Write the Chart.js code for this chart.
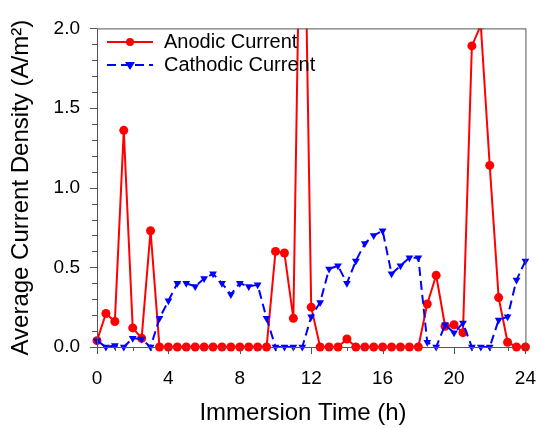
<!DOCTYPE html>
<html>
<head>
<meta charset="utf-8">
<script src="https://cdn.jsdelivr.net/npm/chart.js@4/dist/chart.umd.min.js"></script>
<style>
  html, body { margin: 0; padding: 0; background: #fff; }
  #wrap { width: 556px; height: 428px; }
</style>
</head>
<body>
<div id="wrap"><canvas id="myChart" width="556" height="428"></canvas></div>
<script>
// immersion time (h), one reading every half hour
const times = [0, 0.5, 1, 1.5, 2, 2.5, 3, 3.5, 4, 4.5, 5, 5.5, 6, 6.5, 7, 7.5, 8, 8.5, 9, 9.5,
	10, 10.5, 11, 11.5, 12, 12.5, 13, 13.5, 14, 14.5, 15, 15.5, 16, 16.5, 17, 17.5, 18, 18.5, 19, 19.5,
	20, 20.5, 21, 21.5, 22, 22.5, 23, 23.5, 24]

const anodic = [0.04, 0.21, 0.16, 1.36, 0.12, 0.055, 0.73, 0, 0, 0, 0, 0, 0, 0, 0, 0, 0, 0, 0, 0,
	0.60, 0.59, 0.18, 3.7, 0.25, 0, 0, 0, 0.05, 0, 0, 0, 0, 0, 0, 0, 0, 0.27, 0.45, 0.13,
	0.14, 0.09, 1.89, 2.02, 1.14, 0.31, 0.03, 0, 0]

const cathodic = [0.04, 0, 0.01, 0, 0.055, 0.05, 0, 0.18, 0.29, 0.40, 0.40, 0.38, 0.43, 0.46, 0.40, 0.33, 0.40, 0.38, 0.39, 0.18,
	0, 0, 0, 0, 0.19, 0.28, 0.49, 0.51, 0.40, 0.54, 0.65, 0.70, 0.73, 0.46, 0.51, 0.56, 0.56, 0.03, 0, 0.14,
	0.09, 0.15, 0, 0, 0, 0.17, 0.19, 0.42, 0.54]

const xTicks = [0, 4, 8, 12, 16, 20, 24]
const yTicks = [0, 0.5, 1.0, 1.5, 2.0]

const FONT = 'Arial, "Liberation Sans", sans-serif'
const RED = '#ff0000'
const BLUE = '#0000ff'

const toXY = (vals) => vals.map((v, i) => ({ x: times[i], y: v }))

// frame, minor ticks, titles and in-plot legend
const decorations = {
	id: 'decorations',
	afterDraw(chart) {
		const { ctx, chartArea: a, scales } = chart
		const xs = scales.x, ys = scales.y
		ctx.save()
		ctx.strokeStyle = '#555'
		ctx.lineWidth = 1
		ctx.strokeRect(a.left + 0.5, a.top + 0.5, a.right - a.left, a.bottom - a.top)

		ctx.beginPath()
		for (let h = 0; h <= 24; h++) {
			const px = Math.round(xs.getPixelForValue(h)) + 0.5
			const len = h % 4 === 0 ? 7 : 4
			ctx.moveTo(px, a.bottom)
			ctx.lineTo(px, a.bottom + len)
		}
		for (let k = 0; k <= 20; k++) {
			const py = Math.round(ys.getPixelForValue(k / 10)) + 0.5
			const len = k % 5 === 0 ? 7 : 5
			ctx.moveTo(a.left, py)
			ctx.lineTo(a.left - len, py)
		}
		ctx.stroke()

		// axis titles
		ctx.fillStyle = '#000'
		ctx.font = '24px ' + FONT
		ctx.textAlign = 'center'
		ctx.textBaseline = 'middle'
		ctx.fillText('Immersion Time (h)', 303, 413)
		ctx.save()
		ctx.translate(21, (a.top + a.bottom) / 2)
		ctx.rotate(-Math.PI / 2)
		ctx.fillText('Average Current Density (A/m²)', 0, 0)
		ctx.restore()

		// legend
		const rows = [
			{ label: 'Anodic Current', color: RED, dash: [], y: 42, marker: 'circle' },
			{ label: 'Cathodic Current', color: BLUE, dash: [9, 5], y: 65, marker: 'tri' },
		]
		rows.forEach((r) => {
			ctx.strokeStyle = r.color
			ctx.fillStyle = r.color
			ctx.lineWidth = 2
			ctx.setLineDash(r.dash)
			ctx.beginPath()
			ctx.moveTo(107, r.y)
			ctx.lineTo(153, r.y)
			ctx.stroke()
			ctx.setLineDash([])
			ctx.beginPath()
			if (r.marker === 'circle') {
				ctx.arc(130, r.y, 4, 0, Math.PI * 2)
			} else {
				ctx.moveTo(125, r.y - 3)
				ctx.lineTo(135, r.y - 3)
				ctx.lineTo(130, r.y + 5)
				ctx.closePath()
			}
			ctx.fill()
			ctx.fillStyle = '#000'
			ctx.font = '20px ' + FONT
			ctx.textAlign = 'left'
			ctx.textBaseline = 'middle'
			ctx.fillText(r.label, 164, r.y)
		})
		ctx.restore()
	},
}

const ctx = document.getElementById('myChart').getContext('2d')
const myChart = new Chart(ctx, {
	type: 'line',
	data: {
		datasets: [
			{
				label: 'Anodic Current',
				data: toXY(anodic),
				borderColor: RED,
				backgroundColor: RED,
				borderWidth: 2,
				pointRadius: 4.5,
				pointStyle: 'circle',
				pointBorderWidth: 0,
				order: 1,
				clip: { left: 10, right: 10, bottom: 10, top: 0 },
			},
			{
				label: 'Cathodic Current',
				data: toXY(cathodic),
				borderColor: BLUE,
				backgroundColor: BLUE,
				borderWidth: 2,
				borderDash: [9, 5],
				pointRadius: 4.5,
				pointStyle: 'triangle',
				pointRotation: 180,
				pointBorderWidth: 0,
				order: 0,
				clip: { left: 10, right: 10, bottom: 10, top: 0 },
			},
		],
	},
	options: {
		responsive: false,
		animation: false,
		layout: { padding: { top: 23, right: 9, left: 0, bottom: 0 } },
		plugins: {
			legend: { display: false },
			tooltip: { enabled: false },
		},
		scales: {
			x: {
				type: 'linear',
				min: 0,
				max: 24,
				afterFit: (s) => { s.height = 81 },
				afterBuildTicks: (s) => { s.ticks = xTicks.map((v) => ({ value: v })) },
				grid: { display: false, drawTicks: false },
				border: { display: false },
				ticks: {
					color: '#000',
					font: { family: FONT, size: 19 },
					padding: 20,
					maxRotation: 0,
					callback: (v) => String(v),
				},
			},
			y: {
				min: 0,
				max: 2,
				afterFit: (s) => { s.width = 97 },
				afterBuildTicks: (s) => { s.ticks = yTicks.map((v) => ({ value: v })) },
				grid: { display: false, drawTicks: false },
				border: { display: false },
				ticks: {
					color: '#000',
					font: { family: FONT, size: 19 },
					padding: 17,
					callback: (v) => Number(v).toFixed(1),
				},
			},
		},
	},
	plugins: [decorations],
})
</script>
</body>
</html>
